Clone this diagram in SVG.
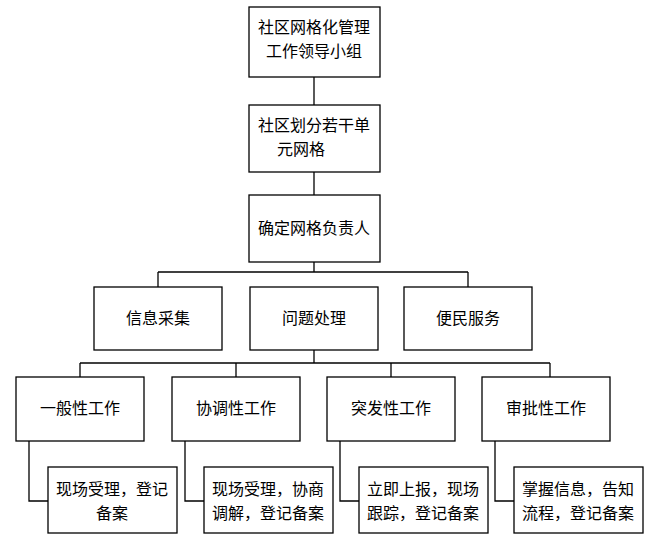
<svg xmlns="http://www.w3.org/2000/svg" width="662" height="542" viewBox="0 0 662 542">
<style>
rect{fill:#fff;stroke:#000;stroke-width:1.3}
text{font-family:"Noto Sans CJK SC",sans-serif;font-size:16px;text-anchor:middle;fill:#000}
.c line,.c polyline{stroke:#000;stroke-width:1.3;fill:none}
</style>
<rect x="0" y="0" width="662" height="542" style="stroke:none"/>
<g class="c" id="connectors">
<line x1="314" y1="77" x2="314" y2="105"/>
<line x1="314" y1="172" x2="314" y2="195"/>
<line x1="314" y1="262" x2="314" y2="272"/>
<line x1="158" y1="272" x2="468" y2="272"/>
<line x1="158" y1="272" x2="158" y2="287"/>
<line x1="468" y1="272" x2="468" y2="287"/>
<line x1="314" y1="350" x2="314" y2="363"/>
<line x1="80" y1="363" x2="550" y2="363"/>
<line x1="80" y1="363" x2="80" y2="377"/>
<line x1="236" y1="363" x2="236" y2="377"/>
<line x1="391" y1="363" x2="391" y2="377"/>
<line x1="550" y1="363" x2="550" y2="377"/>
<polyline points="29,441 29,501 48,501"/>
<polyline points="185,441 185,501 204,501"/>
<polyline points="340,441 340,501 359,501"/>
<polyline points="495,441 495,501 514,501"/>
</g>
<g id="n1"><rect x="249" y="7" width="131" height="70"/><text x="314" y="33">社区网格化管理</text><text x="314" y="57">工作领导小组</text></g>
<g id="n2"><rect x="249" y="105" width="131" height="67"/><text x="314" y="131">社区划分若干单</text><text x="301" y="155">元网格</text></g>
<g id="n3"><rect x="249" y="195" width="131" height="67"/><text x="314" y="234">确定网格负责人</text></g>
<g id="n4"><rect x="94" y="287" width="128" height="63"/><text x="158" y="324">信息采集</text></g>
<g id="n5"><rect x="250" y="287" width="128" height="63"/><text x="314" y="324">问题处理</text></g>
<g id="n6"><rect x="404" y="287" width="128" height="63"/><text x="468" y="324">便民服务</text></g>
<g id="n7"><rect x="16" y="377" width="128" height="64"/><text x="80" y="414">一般性工作</text></g>
<g id="n8"><rect x="172" y="377" width="128" height="64"/><text x="236" y="414">协调性工作</text></g>
<g id="n9"><rect x="327" y="377" width="128" height="64"/><text x="391" y="414">突发性工作</text></g>
<g id="n10"><rect x="482" y="377" width="128" height="64"/><text x="546" y="414">审批性工作</text></g>
<g id="n11"><rect x="48" y="467" width="129" height="66"/><text x="112" y="495">现场受理，登记</text><text x="112" y="519">备案</text></g>
<g id="n12"><rect x="204" y="467" width="129" height="66"/><text x="268" y="495">现场受理，协商</text><text x="268" y="519">调解，登记备案</text></g>
<g id="n13"><rect x="359" y="467" width="129" height="66"/><text x="423" y="495">立即上报，现场</text><text x="423" y="519">跟踪，登记备案</text></g>
<g id="n14"><rect x="514" y="467" width="129" height="66"/><text x="578" y="495">掌握信息，告知</text><text x="578" y="519">流程，登记备案</text></g>
</svg>
